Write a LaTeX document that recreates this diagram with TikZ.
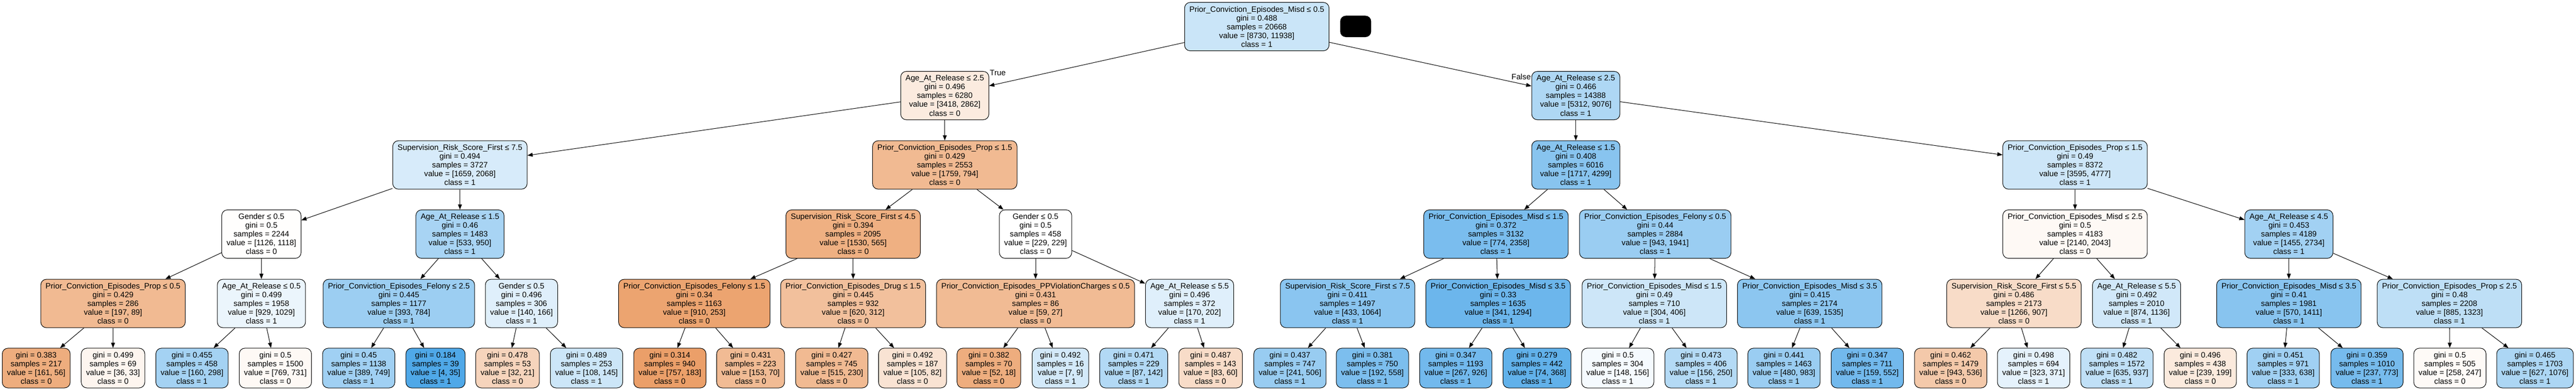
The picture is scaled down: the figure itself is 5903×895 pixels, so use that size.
\documentclass[tikz,border=0pt]{standalone}
\usepackage{fontspec}
\setmainfont{Liberation Sans}
\usepackage{tikz}
\usetikzlibrary{positioning, arrows.meta}

\definecolor{cls0}{HTML}{E58139}
\definecolor{cls1}{HTML}{399DE5}
\newcommand{\stats}[4]{gini = #1\\samples = #2\\value = [#3]\\class = #4}

\begin{document}
\begin{tikzpicture}[x=1pt, y=-1pt, >={Triangle[length=12pt, width=9pt]}, line width=1.2pt,
	box/.style={draw=black, rounded corners=13pt, align=center, inner xsep=11pt, inner ysep=0pt,
		font=\fontsize{18}{20.1}\selectfont},
	split/.style={box, minimum height=111pt},
	leaf/.style={box, minimum height=91pt},
	lbl/.style={font=\fontsize{18}{20.1}\selectfont, inner sep=0pt}]
	\useasboundingbox (0,0) rectangle (5903,895);

	% level 0 and 1
	\node[split, fill=cls1!27] (n) at (2880,61) {Prior\_Conviction\_Episodes\_Misd ≤ 0.5\\\stats{0.488}{20668}{8730, 11938}{1}};
	\node[fill=black, rounded corners=13pt, minimum width=71pt, minimum height=49pt] (key) at (3106.5,60.5) {};
	\node[split, fill=cls0!16] (nL) at (2165,219) {Age\_At\_Release ≤ 2.5\\\stats{0.496}{6280}{3418, 2862}{0}};
	\node[split, fill=cls1!41] (nR) at (3611,219) {Age\_At\_Release ≤ 2.5\\\stats{0.466}{14388}{5312, 9076}{1}};
	\node[lbl, anchor=base west] (true) at ([xshift=1pt, yshift=-10pt]nL.north east) {True};
	\node[lbl, anchor=base east] (false) at ([xshift=-1pt, yshift=-19pt]nR.north west) {False};

	% level 2
	\node[split, fill=cls1!20] (nLL) at (1054,378) {Supervision\_Risk\_Score\_First ≤ 7.5\\\stats{0.494}{3727}{1659, 2068}{1}};
	\node[split, fill=cls0!55] (nLR) at (2165,378) {Prior\_Conviction\_Episodes\_Prop ≤ 1.5\\\stats{0.429}{2553}{1759, 794}{0}};
	\node[split, fill=cls1!60] (nRL) at (3611,378) {Age\_At\_Release ≤ 1.5\\\stats{0.408}{6016}{1717, 4299}{1}};
	\node[split, fill=cls1!25] (nRR) at (4755,378) {Prior\_Conviction\_Episodes\_Prop ≤ 1.5\\\stats{0.49}{8372}{3595, 4777}{1}};

	% level 3
	\node[split, fill=cls0!1]  (nLLL) at (599,536.5)  {Gender ≤ 0.5\\\stats{0.5}{2244}{1126, 1118}{0}};
	\node[split, fill=cls1!44] (nLLR) at (1054,536.5) {Age\_At\_Release ≤ 1.5\\\stats{0.46}{1483}{533, 950}{1}};
	\node[split, fill=cls0!63] (nLRL) at (1955,536.5) {Supervision\_Risk\_Score\_First ≤ 4.5\\\stats{0.394}{2095}{1530, 565}{0}};
	\node[split, fill=white]   (nLRR) at (2373,536.5) {Gender ≤ 0.5\\\stats{0.5}{458}{229, 229}{0}};
	\node[split, fill=cls1!67] (nRLL) at (3428,536.5) {Prior\_Conviction\_Episodes\_Misd ≤ 1.5\\\stats{0.372}{3132}{774, 2358}{1}};
	\node[split, fill=cls1!51] (nRLR) at (3793,536.5) {Prior\_Conviction\_Episodes\_Felony ≤ 0.5\\\stats{0.44}{2884}{943, 1941}{1}};
	\node[split, fill=cls0!5]  (nRRL) at (4755,536.5) {Prior\_Conviction\_Episodes\_Misd ≤ 2.5\\\stats{0.5}{4183}{2140, 2043}{0}};
	\node[split, fill=cls1!47] (nRRR) at (5245,536.5) {Age\_At\_Release ≤ 4.5\\\stats{0.453}{4189}{1455, 2734}{1}};

	% level 4
	\node[split, fill=cls0!55] (nLLLL) at (259,695.5)  {Prior\_Conviction\_Episodes\_Prop ≤ 0.5\\\stats{0.429}{286}{197, 89}{0}};
	\node[split, fill=cls1!10] (nLLLR) at (599,695.5)  {Age\_At\_Release ≤ 0.5\\\stats{0.499}{1958}{929, 1029}{1}};
	\node[split, fill=cls1!50] (nLLRL) at (914,695.5)  {Prior\_Conviction\_Episodes\_Felony ≤ 2.5\\\stats{0.445}{1177}{393, 784}{1}};
	\node[split, fill=cls1!16] (nLLRR) at (1195,695.5) {Gender ≤ 0.5\\\stats{0.496}{306}{140, 166}{1}};
	\node[split, fill=cls0!72] (nLRLL) at (1591,695.5) {Prior\_Conviction\_Episodes\_Felony ≤ 1.5\\\stats{0.34}{1163}{910, 253}{0}};
	\node[split, fill=cls0!50] (nLRLR) at (1955,695.5) {Prior\_Conviction\_Episodes\_Drug ≤ 1.5\\\stats{0.445}{932}{620, 312}{0}};
	\node[split, fill=cls0!54] (nLRRL) at (2373,695.5) {Prior\_Conviction\_Episodes\_PPViolationCharges ≤ 0.5\\\stats{0.431}{86}{59, 27}{0}};
	\node[split, fill=cls1!16] (nLRRR) at (2726,695.5) {Age\_At\_Release ≤ 5.5\\\stats{0.496}{372}{170, 202}{1}};
	\node[split, fill=cls1!59] (nRLLL) at (3088,695.5) {Supervision\_Risk\_Score\_First ≤ 7.5\\\stats{0.411}{1497}{433, 1064}{1}};
	\node[split, fill=cls1!74] (nRLLR) at (3433,695.5) {Prior\_Conviction\_Episodes\_Misd ≤ 3.5\\\stats{0.33}{1635}{341, 1294}{1}};
	\node[split, fill=cls1!25] (nRLRL) at (3791,695.5) {Prior\_Conviction\_Episodes\_Misd ≤ 1.5\\\stats{0.49}{710}{304, 406}{1}};
	\node[split, fill=cls1!58] (nRLRR) at (4147,695.5) {Prior\_Conviction\_Episodes\_Misd ≤ 3.5\\\stats{0.415}{2174}{639, 1535}{1}};
	\node[split, fill=cls0!28] (nRRLL) at (4615,695.5) {Supervision\_Risk\_Score\_First ≤ 5.5\\\stats{0.486}{2173}{1266, 907}{0}};
	\node[split, fill=cls1!23] (nRRLR) at (4896,695.5) {Age\_At\_Release ≤ 5.5\\\stats{0.492}{2010}{874, 1136}{1}};
	\node[split, fill=cls1!60] (nRRRL) at (5245,695.5) {Prior\_Conviction\_Episodes\_Misd ≤ 3.5\\\stats{0.41}{1981}{570, 1411}{1}};
	\node[split, fill=cls1!33] (nRRRR) at (5613,695.5) {Prior\_Conviction\_Episodes\_Prop ≤ 2.5\\\stats{0.48}{2208}{885, 1323}{1}};

	% leaves
	\node[leaf, fill=cls0!65] (nLLLLL) at (83,843.5)   {\stats{0.383}{217}{161, 56}{0}};
	\node[leaf, fill=cls0!8]  (nLLLLR) at (259,843.5)  {\stats{0.499}{69}{36, 33}{0}};
	\node[leaf, fill=cls1!46] (nLLLRL) at (440,843.5)  {\stats{0.455}{458}{160, 298}{1}};
	\node[leaf, fill=cls0!5]  (nLLLRR) at (631,843.5)  {\stats{0.5}{1500}{769, 731}{0}};
	\node[leaf, fill=cls1!48] (nLLRLL) at (822,843.5)  {\stats{0.45}{1138}{389, 749}{1}};
	\node[leaf, fill=cls1!89] (nLLRLR) at (998,843.5)  {\stats{0.184}{39}{4, 35}{1}};
	\node[leaf, fill=cls0!34] (nLLRRL) at (1163,843.5) {\stats{0.478}{53}{32, 21}{0}};
	\node[leaf, fill=cls1!26] (nLLRRR) at (1344,843.5) {\stats{0.489}{253}{108, 145}{1}};
	\node[leaf, fill=cls0!76] (nLRLLL) at (1535,843.5) {\stats{0.314}{940}{757, 183}{0}};
	\node[leaf, fill=cls0!54] (nLRLLR) at (1720,843.5) {\stats{0.431}{223}{153, 70}{0}};
	\node[leaf, fill=cls0!55] (nLRLRL) at (1906,843.5) {\stats{0.427}{745}{515, 230}{0}};
	\node[leaf, fill=cls0!22] (nLRLRR) at (2091,843.5) {\stats{0.492}{187}{105, 82}{0}};
	\node[leaf, fill=cls0!65] (nLRRLL) at (2266,843.5) {\stats{0.382}{70}{52, 18}{0}};
	\node[leaf, fill=cls1!22] (nLRRLR) at (2430,843.5) {\stats{0.492}{16}{7, 9}{1}};
	\node[leaf, fill=cls1!39] (nLRRRL) at (2598,843.5) {\stats{0.471}{229}{87, 142}{1}};
	\node[leaf, fill=cls0!28] (nLRRRR) at (2774,843.5) {\stats{0.487}{143}{83, 60}{0}};
	\node[leaf, fill=cls1!52] (nRLLLL) at (2956,843.5) {\stats{0.437}{747}{241, 506}{1}};
	\node[leaf, fill=cls1!66] (nRLLLR) at (3145,843.5) {\stats{0.381}{750}{192, 558}{1}};
	\node[leaf, fill=cls1!71] (nRLLRL) at (3336,843.5) {\stats{0.347}{1193}{267, 926}{1}};
	\node[leaf, fill=cls1!80] (nRLLRR) at (3522,843.5) {\stats{0.279}{442}{74, 368}{1}};
	\node[leaf, fill=cls1!5]  (nRLRLL) at (3707,843.5) {\stats{0.5}{304}{148, 156}{1}};
	\node[leaf, fill=cls1!38] (nRLRLR) at (3898,843.5) {\stats{0.473}{406}{156, 250}{1}};
	\node[leaf, fill=cls1!51] (nRLRRL) at (4088,843.5) {\stats{0.441}{1463}{480, 983}{1}};
	\node[leaf, fill=cls1!71] (nRLRRR) at (4279,843.5) {\stats{0.347}{711}{159, 552}{1}};
	\node[leaf, fill=cls0!43] (nRRLLL) at (4470,843.5) {\stats{0.462}{1479}{943, 536}{0}};
	\node[leaf, fill=cls1!13] (nRRLLR) at (4660,843.5) {\stats{0.498}{694}{323, 371}{1}};
	\node[leaf, fill=cls1!32] (nRRLRL) at (4851,843.5) {\stats{0.482}{1572}{635, 937}{1}};
	\node[leaf, fill=cls0!17] (nRRLRR) at (5042,843.5) {\stats{0.496}{438}{239, 199}{0}};
	\node[leaf, fill=cls1!48] (nRRRLL) at (5232,843.5) {\stats{0.451}{971}{333, 638}{1}};
	\node[leaf, fill=cls1!69] (nRRRLR) at (5424,843.5) {\stats{0.359}{1010}{237, 773}{1}};
	\node[leaf, fill=cls0!4]  (nRRRRL) at (5614,843.5) {\stats{0.5}{505}{258, 247}{0}};
	\node[leaf, fill=cls1!42] (nRRRRR) at (5809,843.5) {\stats{0.465}{1703}{627, 1076}{1}};

	\path[->]
	% splits
	(n) edge (nL)
	(n) edge (nR)
	(nL) edge (nLL)
	(nL) edge (nLR)
	(nR) edge (nRL)
	(nR) edge (nRR)
	(nLL) edge (nLLL)
	(nLL) edge (nLLR)
	(nLR) edge (nLRL)
	(nLR) edge (nLRR)
	(nRL) edge (nRLL)
	(nRL) edge (nRLR)
	(nRR) edge (nRRL)
	(nRR) edge (nRRR)
	(nLLL) edge (nLLLL)
	(nLLL) edge (nLLLR)
	(nLLR) edge (nLLRL)
	(nLLR) edge (nLLRR)
	(nLRL) edge (nLRLL)
	(nLRL) edge (nLRLR)
	(nLRR) edge (nLRRL)
	(nLRR) edge (nLRRR)
	(nRLL) edge (nRLLL)
	(nRLL) edge (nRLLR)
	(nRLR) edge (nRLRL)
	(nRLR) edge (nRLRR)
	(nRRL) edge (nRRLL)
	(nRRL) edge (nRRLR)
	(nRRR) edge (nRRRL)
	(nRRR) edge (nRRRR)
	% leaves
	(nLLLL) edge (nLLLLL)
	(nLLLL) edge (nLLLLR)
	(nLLLR) edge (nLLLRL)
	(nLLLR) edge (nLLLRR)
	(nLLRL) edge (nLLRLL)
	(nLLRL) edge (nLLRLR)
	(nLLRR) edge (nLLRRL)
	(nLLRR) edge (nLLRRR)
	(nLRLL) edge (nLRLLL)
	(nLRLL) edge (nLRLLR)
	(nLRLR) edge (nLRLRL)
	(nLRLR) edge (nLRLRR)
	(nLRRL) edge (nLRRLL)
	(nLRRL) edge (nLRRLR)
	(nLRRR) edge (nLRRRL)
	(nLRRR) edge (nLRRRR)
	(nRLLL) edge (nRLLLL)
	(nRLLL) edge (nRLLLR)
	(nRLLR) edge (nRLLRL)
	(nRLLR) edge (nRLLRR)
	(nRLRL) edge (nRLRLL)
	(nRLRL) edge (nRLRLR)
	(nRLRR) edge (nRLRRL)
	(nRLRR) edge (nRLRRR)
	(nRRLL) edge (nRRLLL)
	(nRRLL) edge (nRRLLR)
	(nRRLR) edge (nRRLRL)
	(nRRLR) edge (nRRLRR)
	(nRRRL) edge (nRRRLL)
	(nRRRL) edge (nRRRLR)
	(nRRRR) edge (nRRRRL)
	(nRRRR) edge (nRRRRR);
\end{tikzpicture}
\end{document}
